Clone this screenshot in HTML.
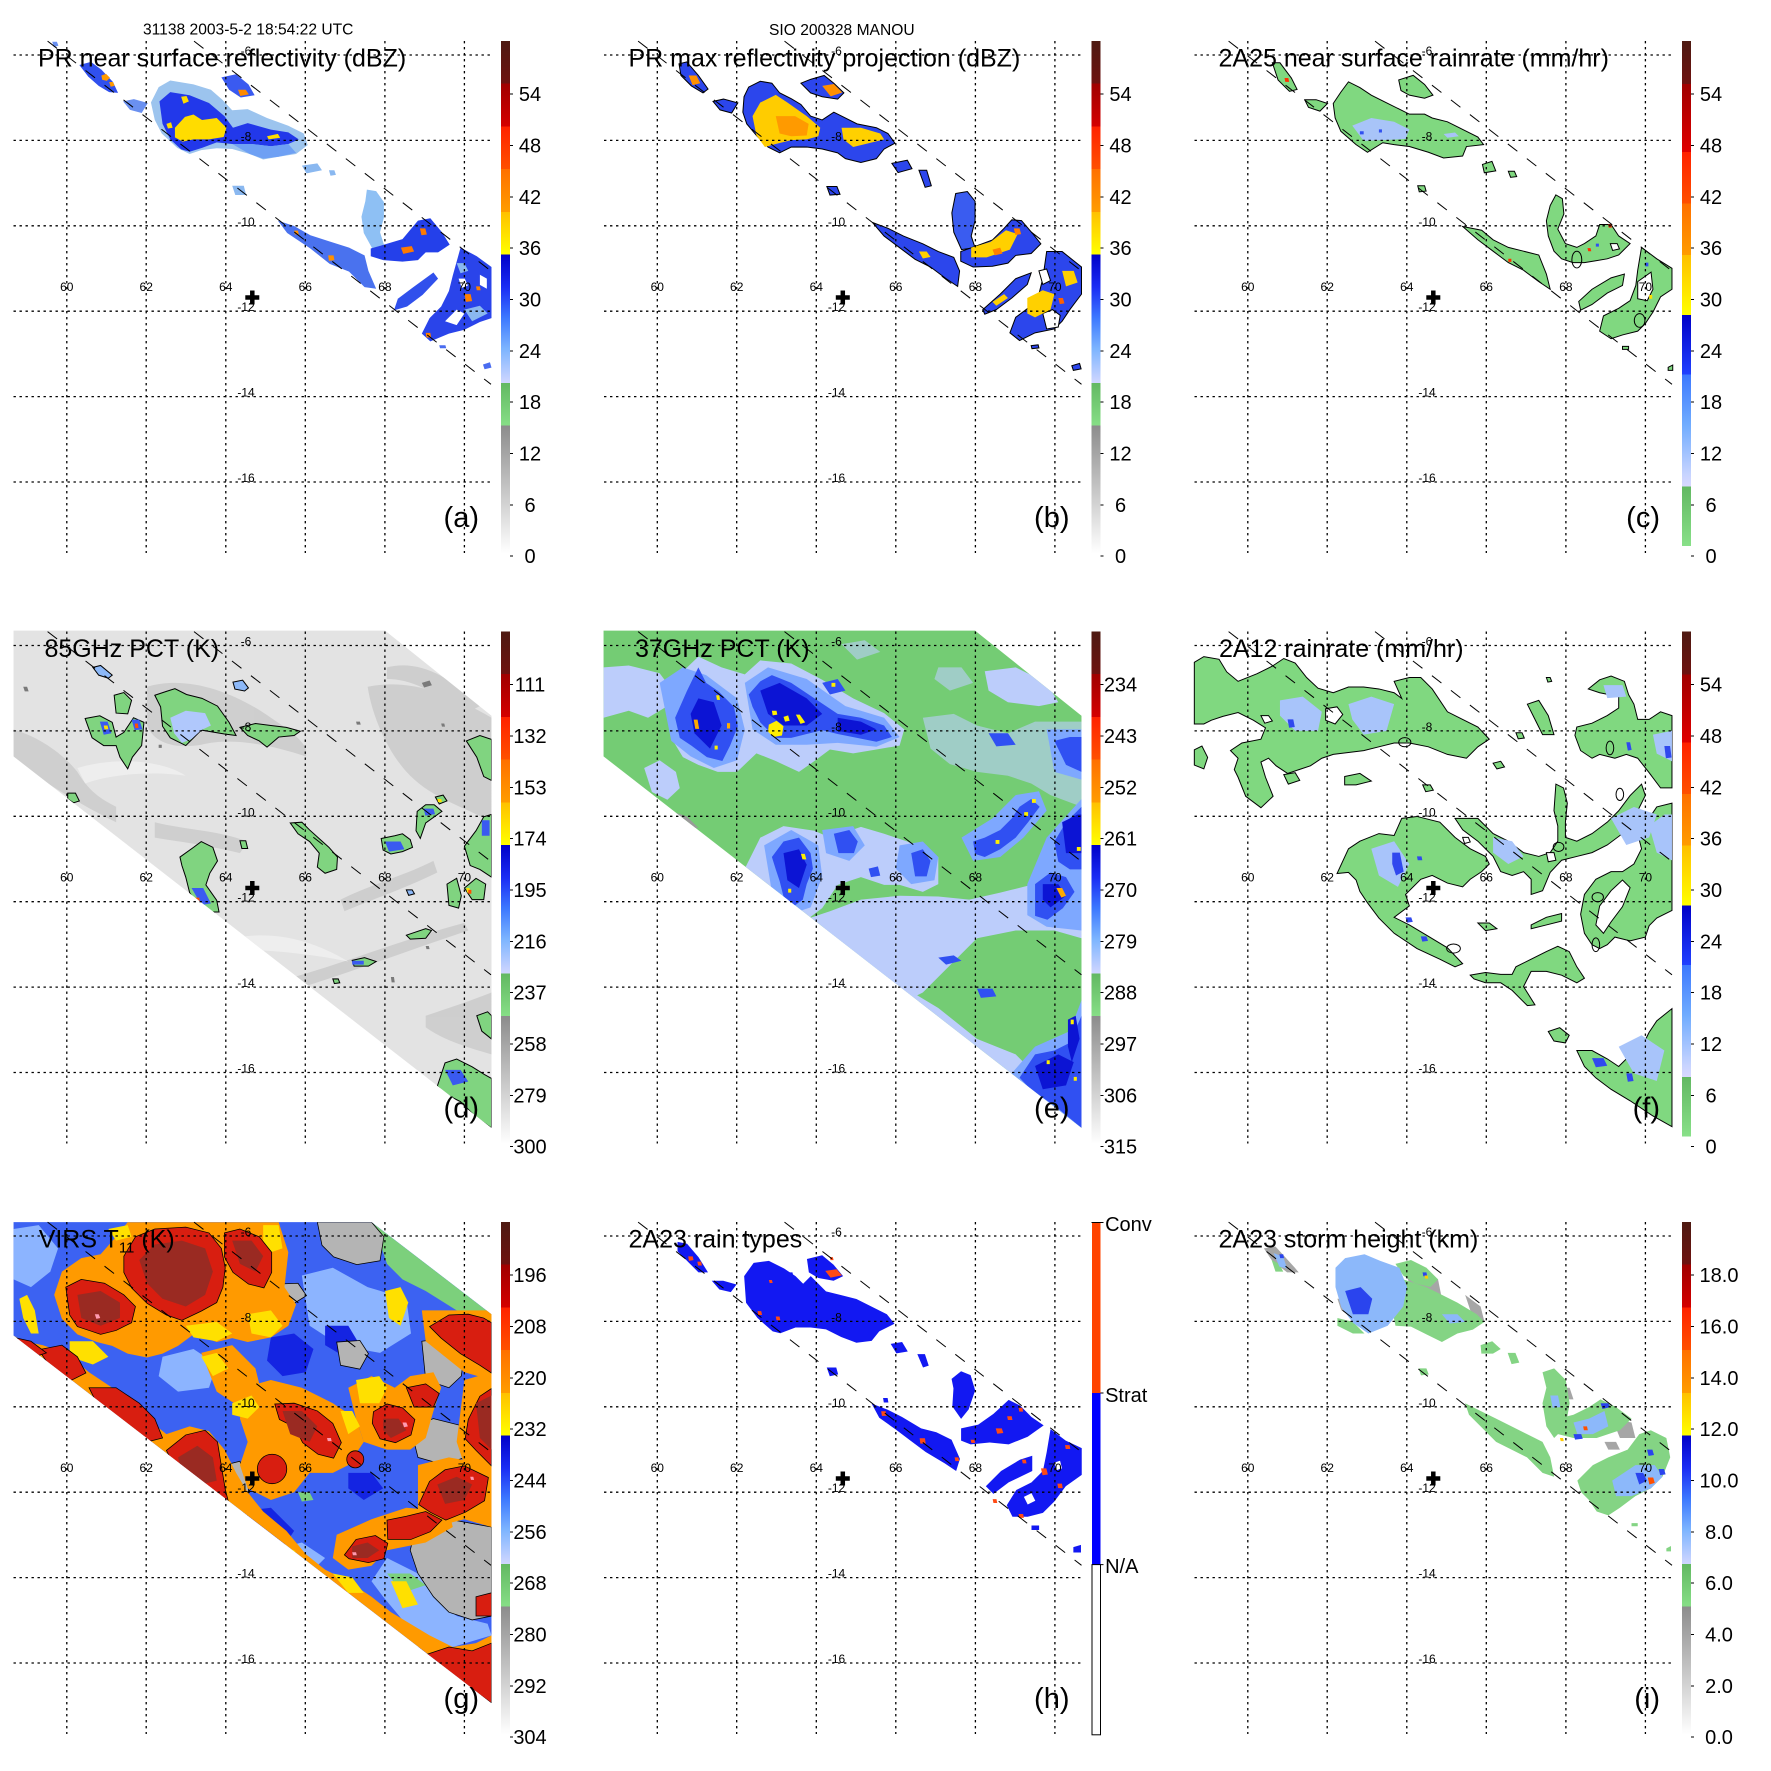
<!DOCTYPE html>
<html><head><meta charset="utf-8"><style>
html,body{margin:0;padding:0;background:#fff}
svg{display:block}
text{font-family:"Liberation Sans",Arial,sans-serif;fill:#000}
.grid{stroke:#000;stroke-width:1.3;stroke-dasharray:2.4 3.6;fill:none}
.sw{stroke:#000;stroke-width:1;stroke-dasharray:12 12;fill:none}
.lat,.lon{font-size:12px;text-anchor:middle}
.ttl{font-size:25px}
.plab{font-size:29px;text-anchor:end}
.cbl{font-size:20px;text-anchor:middle}
.tk{stroke:#000;stroke-width:1}
.cr{stroke:#000;stroke-width:4.5}
</style></head><body>
<svg width="1771" height="1771" viewBox="0 0 1771 1771" xmlns="http://www.w3.org/2000/svg">
<defs>
<linearGradient id="cbA" x1="0" y1="0" x2="0" y2="1">
<stop offset="0" stop-color="#4e1a12"/><stop offset="0.0833" stop-color="#6e1210"/>
<stop offset="0.0833" stop-color="#a00000"/><stop offset="0.1667" stop-color="#d40000"/>
<stop offset="0.1667" stop-color="#ff2200"/><stop offset="0.25" stop-color="#ff5000"/>
<stop offset="0.25" stop-color="#ff7000"/><stop offset="0.3333" stop-color="#ff9c00"/>
<stop offset="0.3333" stop-color="#ffc000"/><stop offset="0.4167" stop-color="#ffff00"/>
<stop offset="0.4167" stop-color="#0000c8"/><stop offset="0.48" stop-color="#1a2cf4"/>
<stop offset="0.54" stop-color="#3c78ff"/><stop offset="0.6" stop-color="#7cb4ff"/>
<stop offset="0.667" stop-color="#d0d6ff"/><stop offset="0.667" stop-color="#62b862"/>
<stop offset="0.75" stop-color="#86de86"/><stop offset="0.75" stop-color="#8c8c8c"/>
<stop offset="1" stop-color="#ffffff"/>
</linearGradient>
<linearGradient id="cbC" x1="0" y1="0" x2="0" y2="1">
<stop offset="0" stop-color="#4e1a12"/><stop offset="0.085" stop-color="#6e1210"/>
<stop offset="0.085" stop-color="#a00000"/><stop offset="0.22" stop-color="#e00000"/>
<stop offset="0.22" stop-color="#ff2200"/><stop offset="0.322" stop-color="#ff5000"/>
<stop offset="0.322" stop-color="#ff7000"/><stop offset="0.424" stop-color="#ff9c00"/>
<stop offset="0.424" stop-color="#ffc000"/><stop offset="0.543" stop-color="#ffff00"/>
<stop offset="0.543" stop-color="#0000c8"/><stop offset="0.66" stop-color="#2040ff"/>
<stop offset="0.66" stop-color="#3c78ff"/><stop offset="0.76" stop-color="#70acff"/>
<stop offset="0.86" stop-color="#c8d4ff"/><stop offset="0.882" stop-color="#d8d8ff"/>
<stop offset="0.882" stop-color="#62b862"/><stop offset="1" stop-color="#88e088"/>
</linearGradient>
<clipPath id="cpG" clipPathUnits="userSpaceOnUse"><path d="M35,132H960L1270,370V1375L35,425Z"/></clipPath>
<clipPath id="cpE" clipPathUnits="userSpaceOnUse"><path d="M35,105H995L1270,325V1390L35,430Z"/></clipPath>
</defs>

<text x="143" y="34.5" style="font-size:15.6px">31138 2003-5-2 18:54:22 UTC</text>
<text x="769" y="34.8" style="font-size:15.6px">SIO 200328 MANOU</text>

<!-- ================= PANEL A ================= -->
<g transform="translate(0,0)">
<g transform="scale(.387)">
<path fill="#3050ee" d="M205,168 L235,160 262,180 292,212 305,240 282,238 255,222 228,198Z"/>
<path fill="#ff9a00" d="M262,195 l12,-4 10,10 -8,8 -12,-3Z M282,212 l10,0 4,10 -10,2Z"/>
<path fill="#6a90f0" d="M318,262 L346,256 382,266 366,292 336,284Z M135,108 l12,0 4,10 -12,4Z"/>
<path fill="#9cc4ee" d="M390,265 L410,225 440,208 500,218 545,232 575,258 600,285 640,282 690,305 745,325 785,345 795,375 765,398 720,405 680,412 645,398 600,385 560,383 520,388 490,398 458,382 418,345 400,310Z"/>
<path fill="#2238ea" d="M412,262 L440,238 490,246 540,266 580,300 602,330 640,318 700,335 745,342 772,360 745,372 700,378 650,372 600,372 560,368 522,382 490,392 468,386 440,360 420,320Z"/>
<path fill="#ffdc00" d="M452,330 L478,302 500,296 522,310 560,305 585,330 578,354 540,360 500,360 472,366 452,355Z M468,250 l14,-2 6,14 -14,6Z M690,352 l28,-6 6,10 -30,4Z M430,320 l12,-4 4,14 -12,2Z"/>
<path fill="#6ea0f4" d="M600,372 L650,372 700,378 745,372 765,395 720,405 680,410 645,398Z"/>
<path fill="#3a5af0" d="M572,200 L610,192 642,218 658,246 622,252 592,232Z"/>
<path fill="#ff8a00" d="M615,232 l20,0 8,12 -22,4Z"/>
<path fill="#8ab8f0" d="M780,428 l40,-6 12,18 -40,8Z M600,480 l30,0 6,24 -28,0Z M850,440 l14,0 4,12 -14,2Z"/>
<path fill="#8ec0f4" d="M948,490 L972,494 992,522 992,562 982,600 992,632 962,642 940,602 934,560 944,520Z"/>
<path fill="#4a72ee" d="M718,570 L760,584 802,608 852,624 902,640 942,660 952,700 972,746 942,742 902,702 852,682 802,642 742,602Z"/>
<path fill="#ff9000" d="M848,660 l14,0 2,12 -14,2Z M760,596 l10,0 2,10 -10,0Z"/>
<path fill="#2440ea" d="M958,642 L1000,630 1040,618 1080,570 1112,564 1142,600 1162,632 1132,652 1100,652 1080,672 1040,676 990,672 958,662Z"/>
<path fill="#ff7a00" d="M1036,640 l28,-4 6,14 -28,6Z M1085,590 l14,0 4,16 -14,2Z"/>
<path fill="#3050ec" d="M1028,772 L1068,742 1120,704 1132,720 1092,762 1052,792 1018,802Z"/>
<path fill="#2a44ea" d="M1190,640 L1232,662 1270,690 1270,822 1240,832 1200,852 1160,862 1112,882 1090,862 1110,822 1140,792 1160,752 1170,712Z"/>
<path fill="#8ab8f0" d="M1200,800 l40,-10 20,20 -40,20Z M1180,680 l20,0 10,20 -20,6Z"/>
<path fill="#ffffff" d="M1150,830 l30,-30 20,10 -20,30Z M1185,720 l16,0 8,18 -16,6Z M1240,710 l18,10 0,26 -18,-10Z"/>
<path fill="#ff8000" d="M1200,760 l16,0 4,18 -16,2Z M1100,860 l12,0 2,12 -12,0Z M1230,740 l10,0 2,10 -10,0Z"/>
<path fill="#4a6cf0" d="M1248,942 l18,-6 4,14 -18,4Z M1135,892 l16,0 2,8 -16,0Z"/>
</g>
<path class="grid" d="M13.5,55H491M13.5,140.4H491M13.5,225.8H491M13.5,311.2H491M13.5,396.6H491M13.5,482H491M66.8,41V553M146.2,41V553M225.8,41V553M305.3,41V553M384.9,41V553M464.4,41V553"/>
<path class="sw" d="M47.6,41.1L491,384.3M194,41.1L491,271"/>
<text class="lat" x="246" y="55">-6</text><text class="lat" x="246" y="140.4">-8</text><text class="lat" x="246" y="225.8">-10</text><text class="lat" x="246" y="311.2">-12</text><text class="lat" x="246" y="396.6">-14</text><text class="lat" x="246" y="482">-16</text>
<text class="lon" x="66.8" y="291">60</text><text class="lon" x="146.2" y="291">62</text><text class="lon" x="225.8" y="291">64</text><text class="lon" x="305.3" y="291">66</text><text class="lon" x="384.9" y="291">68</text><text class="lon" x="464.4" y="291">70</text>
<path class="cr" d="M245.3,297.5H259.3M252.3,290.5V304.5"/>
<text class="ttl" x="38" y="66.5">PR near surface reflectivity (dBZ)</text>
<text class="plab" x="479" y="527">(a)</text>
<rect x="501" y="41" width="9" height="512.5" fill="url(#cbA)"/>
<path class="tk" d="M510,94h3M510,145.5h3M510,197h3M510,248h3M510,299.5h3M510,351h3M510,402h3M510,453.5h3M510,505h3M510,556h3"/>
<text class="cbl" x="530" y="101.2">54</text><text class="cbl" x="530" y="152.7">48</text><text class="cbl" x="530" y="204.2">42</text><text class="cbl" x="530" y="255.2">36</text><text class="cbl" x="530" y="306.7">30</text><text class="cbl" x="530" y="358.2">24</text><text class="cbl" x="530" y="409.2">18</text><text class="cbl" x="530" y="460.7">12</text><text class="cbl" x="530" y="512.2">6</text><text class="cbl" x="530" y="563.2">0</text>
</g>

<!-- ================= PANEL B ================= -->
<g transform="translate(590.5,0)">
<g transform="translate(-0.5,0) scale(.387)">
<g stroke="#000" stroke-width="2.6" fill="#2c46ec">
<path d="M230,165 L250,160 280,195 305,230 292,240 262,222 235,195Z"/>
<path d="M318,262 L345,256 382,266 366,292 336,284Z"/>
<path d="M398,250 L410,225 440,210 470,215 490,240 520,255 545,270 570,300 600,310 630,290 650,300 690,320 740,330 770,345 788,370 760,385 740,410 700,420 660,410 640,395 600,385 560,380 520,380 490,395 460,380 430,350 405,320 395,290Z"/>
<path d="M545,215 L570,205 605,195 630,215 656,240 640,256 600,250 570,240Z"/>
<path d="M780,422 l40,-8 12,22 -36,10Z M850,440 l20,0 12,40 -16,4Z M612,482 l26,0 8,20 -26,2Z"/>
<path fill="#3a5cf0" d="M945,500 L975,495 995,520 995,570 985,610 995,640 960,645 940,600 935,550Z"/>
<path d="M958,650 L1000,635 1040,620 1070,590 1090,568 1115,570 1145,605 1165,630 1140,655 1100,660 1080,680 1040,688 990,690 958,675Z"/>
<path d="M730,575 L770,590 810,610 860,630 900,650 940,665 955,700 950,740 920,720 880,690 840,670 800,640 760,610Z"/>
<path d="M1015,800 L1060,760 1100,720 1140,705 1130,735 1090,770 1050,800 1020,812Z"/>
<path d="M1180,650 L1220,650 1270,690 1270,760 1240,800 1220,830 1200,850 1150,860 1110,880 1085,860 1100,820 1140,790 1160,760 1170,720Z"/>
<path fill="#fff" d="M1170,810 L1195,800 1215,815 1210,845 1180,850Z M1160,700 l20,-5 10,30 -20,10Z"/>
<path d="M1245,945 l20,-6 4,14 -20,4Z M1140,893 l18,-2 2,8 -18,2Z"/>
</g>
<path fill="#ffcc00" d="M420,300 L440,265 480,245 510,265 560,300 595,330 590,352 560,360 520,362 480,372 452,380 430,350Z"/>
<path fill="#ff9a00" d="M480,300 L530,300 565,320 560,350 520,352 490,345Z"/>
<path fill="#ffd000" d="M650,330 L700,330 750,345 760,360 720,370 680,380 655,360Z"/>
<path fill="#ff9000" d="M600,222 l30,-5 22,22 -30,10Z M255,195 l20,0 10,20 -20,5Z"/>
<path fill="#ffd000" d="M985,640 l50,-15 40,-30 30,10 -20,40 -60,20 -40,0Z"/>
<path fill="#ff8000" d="M1040,645 l20,-5 6,15 -20,5Z M1095,590 l15,0 4,15 -15,2Z"/>
<path fill="#ffd000" d="M1130,770 l40,-20 30,10 -10,40 -40,20 -20,-10Z M1220,700 l30,0 10,30 -30,10Z M850,650 l20,0 10,14 -20,4Z M1040,780 l30,-20 10,10 -30,20Z"/>
<path fill="#ff6000" d="M1210,770 l12,0 4,14 -12,2Z"/>
</g>
<path class="grid" d="M13.5,55H491M13.5,140.4H491M13.5,225.8H491M13.5,311.2H491M13.5,396.6H491M13.5,482H491M66.8,41V553M146.2,41V553M225.8,41V553M305.3,41V553M384.9,41V553M464.4,41V553"/>
<path class="sw" d="M47.6,41.1L491,384.3M194,41.1L491,271"/>
<text class="lat" x="246" y="55">-6</text><text class="lat" x="246" y="140.4">-8</text><text class="lat" x="246" y="225.8">-10</text><text class="lat" x="246" y="311.2">-12</text><text class="lat" x="246" y="396.6">-14</text><text class="lat" x="246" y="482">-16</text>
<text class="lon" x="66.8" y="291">60</text><text class="lon" x="146.2" y="291">62</text><text class="lon" x="225.8" y="291">64</text><text class="lon" x="305.3" y="291">66</text><text class="lon" x="384.9" y="291">68</text><text class="lon" x="464.4" y="291">70</text>
<path class="cr" d="M245.3,297.5H259.3M252.3,290.5V304.5"/>
<text class="ttl" x="38" y="66.5">PR max reflectivity projection (dBZ)</text>
<text class="plab" x="479" y="527">(b)</text>
<rect x="501" y="41" width="9" height="512.5" fill="url(#cbA)"/>
<path class="tk" d="M510,94h3M510,145.5h3M510,197h3M510,248h3M510,299.5h3M510,351h3M510,402h3M510,453.5h3M510,505h3M510,556h3"/>
<text class="cbl" x="530" y="101.2">54</text><text class="cbl" x="530" y="152.7">48</text><text class="cbl" x="530" y="204.2">42</text><text class="cbl" x="530" y="255.2">36</text><text class="cbl" x="530" y="306.7">30</text><text class="cbl" x="530" y="358.2">24</text><text class="cbl" x="530" y="409.2">18</text><text class="cbl" x="530" y="460.7">12</text><text class="cbl" x="530" y="512.2">6</text><text class="cbl" x="530" y="563.2">0</text>
</g>

<!-- ================= PANEL C ================= -->
<g transform="translate(1181,0)">
<g transform="scale(.3806)">
<g fill="#80d880" stroke="#000" stroke-width="2.6">
<path d="M240,165 l20,0 30,40 15,30 -20,5 -30,-30Z"/>
<path d="M325,262 l30,0 30,10 -20,20 -30,-10Z"/>
<path d="M400,272 L420,242 440,215 470,230 500,250 540,270 570,285 600,300 640,300 660,310 700,320 740,340 780,360 795,380 750,385 740,410 690,415 650,400 600,385 560,380 530,375 490,400 460,380 420,345 405,310Z"/>
<path d="M572,210 L610,198 640,222 662,250 640,258 600,250 578,238Z"/>
<path d="M792,432 l25,-8 10,25 -30,5Z M860,450 l16,0 6,14 -16,2Z M622,488 l18,0 4,14 -18,2Z"/>
<path d="M985,512 L1002,522 1006,562 990,602 1010,640 1040,650 1060,640 1090,620 1100,590 1130,590 1150,620 1180,640 1150,670 1120,680 1090,685 1060,690 1030,690 1000,680 980,660 965,620 960,580 970,540Z"/>
<path d="M740,595 L790,605 820,630 860,650 900,660 940,670 960,720 970,760 940,740 900,710 860,690 820,660 780,630Z"/>
<path d="M1045,792 L1080,760 1130,730 1165,720 1160,750 1120,770 1080,800 1050,815Z"/>
<path d="M1210,650 L1250,680 1290,705 1290,760 1260,780 1240,820 1220,850 1200,870 1160,880 1130,890 1100,870 1110,830 1150,810 1180,790 1195,750 1200,710Z"/>
<path d="M1280,965 l12,-6 0,14 -12,0Z M1160,910 l16,0 0,8 -16,0Z"/>
<path fill="#fff" d="M1200,740 L1235,715 1240,760 1225,790 1200,785Z M1128,640 l18,0 6,14 -18,4Z"/>
<ellipse fill="none" cx="1040" cy="682" rx="13" ry="22"/>
<ellipse fill="none" cx="1205" cy="842" rx="14" ry="18"/>
</g>
<path fill="#a8c4f8" d="M450,330 L500,310 560,320 600,340 590,365 540,368 480,370Z M690,352 l30,-4 10,10 -30,4Z"/>
<path fill="#3050f0" d="M470,345 l10,0 0,8 -10,0Z M520,340 l8,0 0,8 -8,0Z M1090,640 l8,0 0,8 -8,0Z M1220,690 l8,0 0,10 -8,0Z"/>
<path fill="#ff3000" d="M272,205 l10,0 2,10 -10,0Z M1122,590 l8,0 2,8 -8,0Z M1068,652 l8,0 2,8 -8,0Z M860,680 l8,0 0,8 -8,0Z"/>
<path fill="#ffe000" d="M1230,775 l8,0 0,10 -8,0Z"/>
</g>
<path class="grid" d="M13.5,55H491M13.5,140.4H491M13.5,225.8H491M13.5,311.2H491M13.5,396.6H491M13.5,482H491M66.8,41V553M146.2,41V553M225.8,41V553M305.3,41V553M384.9,41V553M464.4,41V553"/>
<path class="sw" d="M47.6,41.1L491,384.3M194,41.1L491,271"/>
<text class="lat" x="246" y="55">-6</text><text class="lat" x="246" y="140.4">-8</text><text class="lat" x="246" y="225.8">-10</text><text class="lat" x="246" y="311.2">-12</text><text class="lat" x="246" y="396.6">-14</text><text class="lat" x="246" y="482">-16</text>
<text class="lon" x="66.8" y="291">60</text><text class="lon" x="146.2" y="291">62</text><text class="lon" x="225.8" y="291">64</text><text class="lon" x="305.3" y="291">66</text><text class="lon" x="384.9" y="291">68</text><text class="lon" x="464.4" y="291">70</text>
<path class="cr" d="M245.3,297.5H259.3M252.3,290.5V304.5"/>
<text class="ttl" x="37.5" y="66.5">2A25 near surface rainrate (mm/hr)</text>
<text class="plab" x="479" y="527">(c)</text>
<rect x="501" y="41" width="9" height="505" fill="url(#cbC)"/>
<path class="tk" d="M510,94h3M510,145.5h3M510,197h3M510,248h3M510,299.5h3M510,351h3M510,402h3M510,453.5h3M510,505h3M510,556h3"/>
<text class="cbl" x="530" y="101.2">54</text><text class="cbl" x="530" y="152.7">48</text><text class="cbl" x="530" y="204.2">42</text><text class="cbl" x="530" y="255.2">36</text><text class="cbl" x="530" y="306.7">30</text><text class="cbl" x="530" y="358.2">24</text><text class="cbl" x="530" y="409.2">18</text><text class="cbl" x="530" y="460.7">12</text><text class="cbl" x="530" y="512.2">6</text><text class="cbl" x="530" y="563.2">0</text>
</g>

<!-- ================= PANEL D ================= -->
<g transform="translate(0,590.5)">
<g transform="translate(0,-0.5) scale(.387)">
<path fill="#e3e3e3" d="M35,105H995L1270,325V1390L35,430Z"/>
<g clip-path="url(#cpE)">
<g fill="#cbcbcb" opacity="0.85">
<path d="M380,250 C480,220 600,260 700,330 C760,370 800,400 790,430 C700,400 600,380 520,400 C460,410 400,400 380,350Z"/>
<path d="M35,360 C100,380 160,420 200,470 C230,520 260,540 300,560 L300,600 C220,560 150,520 35,440Z"/>
<path d="M950,250 C1050,230 1150,260 1270,330 L1270,600 C1200,560 1120,540 1060,480 C1000,420 960,320 950,250Z"/>
<path d="M400,600 C480,620 560,620 640,650 L620,680 C540,660 460,650 400,640Z"/>
<path d="M880,800 C960,760 1040,740 1120,700 L1130,730 C1050,770 960,800 890,830Z"/>
<path d="M760,1000 C900,960 1050,900 1200,860 L1210,880 C1060,930 900,990 770,1030Z"/>
<path d="M1100,1100 C1160,1080 1220,1060 1270,1040 L1270,1200 C1200,1180 1140,1160 1100,1130Z"/>
<path d="M1000,200 C1080,180 1160,220 1240,300 L1200,320 C1120,260 1060,230 1000,230Z"/>
</g>
<g fill="#f0f0f0" opacity="0.8">
<path d="M200,460 C300,430 420,440 480,480 C420,470 300,470 220,500Z"/>
<path d="M600,900 C700,880 800,900 900,960 C800,940 700,930 620,930Z"/>
</g>
<g fill="#7a7a7a">
<path d="M1090,240 l20,-6 6,12 -20,6Z M60,250 l10,0 4,12 -10,0Z M920,340 l10,0 2,8 -10,0Z M1140,345 l8,0 2,8 -8,0Z M1100,920 l8,0 2,8 -8,0Z M1010,1000 l8,0 2,14 -8,0Z M410,400 l8,0 0,8 -8,0Z"/>
</g>
<g fill="#80d480" stroke="#000" stroke-width="2.6">
<path d="M220,332 L258,325 290,342 300,380 320,368 345,330 372,342 366,402 342,432 330,462 310,432 300,402 268,402 238,382Z"/>
<path d="M295,272 L320,265 340,285 330,320 300,318Z"/>
<path d="M400,272 L430,262 452,255 482,270 522,280 562,300 592,342 610,376 580,372 520,362 500,382 480,402 440,382 420,352 415,302Z"/>
<path d="M620,355 L660,345 700,350 740,355 776,365 760,376 720,380 690,406 670,390 640,376Z"/>
<path d="M465,690 L500,665 520,650 550,665 562,700 542,732 532,762 560,802 566,832 540,832 510,812 490,782 480,742 470,712Z"/>
<path d="M750,602 L780,600 800,620 822,640 850,665 872,690 870,722 840,732 820,716 825,680 800,650 770,630Z"/>
<path d="M985,642 L1020,635 1040,630 1060,645 1066,665 1040,676 1010,682 990,672Z"/>
<path d="M1078,572 L1100,555 1122,555 1142,572 1100,602 1086,642 1075,622Z"/>
<path d="M1205,390 L1240,376 1270,386 1270,492 1250,482 1232,432Z"/>
<path d="M1200,662 L1230,622 1250,586 1270,580 1270,742 1240,722 1215,712Z"/>
<path d="M1155,760 L1180,745 1192,790 1185,822 1160,815Z"/>
<path d="M1200,770 L1230,745 1255,760 1250,800 1220,800Z"/>
<path d="M910,957 L942,950 972,960 952,972 915,972Z"/>
<path d="M1050,892 L1100,875 1115,880 1100,900 1060,902Z"/>
<path d="M1130,1282 L1150,1222 1180,1212 1220,1232 1252,1252 1270,1262 1270,1390 1230,1362 1190,1322 1150,1302Z"/>
<path d="M1232,1100 L1260,1090 1270,1100 1270,1160 1245,1140Z"/>
<path d="M175,525 l20,0 10,20 -15,5 -15,-10Z M620,648 l15,0 5,20 -15,0Z M1125,535 l20,-5 10,15 -20,8Z M860,1005 l14,0 4,10 -14,2Z"/>
<path fill="#8cb8f8" d="M240,200 l20,-5 30,25 -10,8 -25,-8Z M602,238 l25,-5 15,20 -10,8 -25,-5Z M1050,775 l15,0 6,10 -15,4Z"/>
</g>
<path fill="#b0c8fc" d="M440,330 L480,312 530,318 545,350 520,362 495,385 470,395 450,370Z"/>
<path fill="#3a5af0" d="M258,340 l20,0 10,30 -20,4Z M340,335 l20,0 8,25 -20,2Z M495,770 l30,0 20,40 -25,4Z M995,650 l40,0 10,20 -40,6Z M1095,565 l25,0 4,14 -25,4Z M1150,1240 l40,0 20,30 -40,10Z M910,958 l30,0 0,10 -30,0Z M1245,595 l20,0 0,40 -20,0Z"/>
<path fill="#ffe000" d="M268,350 l10,0 2,10 -10,0Z M1205,770 l8,0 2,12 -8,0Z M1130,540 l10,0 2,8 -10,0Z"/>
<path fill="#ff5000" d="M348,345 l8,0 2,12 -8,0Z M505,795 l10,0 2,14 -10,0Z M1210,775 l8,0 0,10 -8,0Z"/>
</g>
</g>
<path class="grid" d="M13.5,55H491M13.5,140.4H491M13.5,225.8H491M13.5,311.2H491M13.5,396.6H491M13.5,482H491M66.8,41V553M146.2,41V553M225.8,41V553M305.3,41V553M384.9,41V553M464.4,41V553"/>
<path class="sw" d="M47.6,41.1L491,384.3M194,41.1L491,271"/>
<text class="lat" x="246" y="55">-6</text><text class="lat" x="246" y="140.4">-8</text><text class="lat" x="246" y="225.8">-10</text><text class="lat" x="246" y="311.2">-12</text><text class="lat" x="246" y="396.6">-14</text><text class="lat" x="246" y="482">-16</text>
<text class="lon" x="66.8" y="291">60</text><text class="lon" x="146.2" y="291">62</text><text class="lon" x="225.8" y="291">64</text><text class="lon" x="305.3" y="291">66</text><text class="lon" x="384.9" y="291">68</text><text class="lon" x="464.4" y="291">70</text>
<path class="cr" d="M245.3,297.5H259.3M252.3,290.5V304.5"/>
<text class="ttl" x="44.5" y="66.5">85GHz PCT (K)</text>
<text class="plab" x="479" y="527">(d)</text>
<rect x="501" y="41" width="9" height="512.5" fill="url(#cbA)"/>
<path class="tk" d="M510,94h3M510,145.5h3M510,197h3M510,248h3M510,299.5h3M510,351h3M510,402h3M510,453.5h3M510,505h3M510,556h3"/>
<text class="cbl" x="530" y="101.2">111</text><text class="cbl" x="530" y="152.7">132</text><text class="cbl" x="530" y="204.2">153</text><text class="cbl" x="530" y="255.2">174</text><text class="cbl" x="530" y="306.7">195</text><text class="cbl" x="530" y="358.2">216</text><text class="cbl" x="530" y="409.2">237</text><text class="cbl" x="530" y="460.7">258</text><text class="cbl" x="530" y="512.2">279</text><text class="cbl" x="530" y="563.2">300</text>
</g>

<!-- ================= PANEL E ================= -->
<g transform="translate(590.5,590.5)">
<g transform="translate(-0.5,-0.5) scale(.387)">
<path fill="#74cc74" d="M35,105H995L1270,325V1390L35,430Z"/>
<g clip-path="url(#cpE)">
<g fill="#bccdfb">
<path d="M35,200 L100,195 180,215 212,258 200,300 150,330 100,312 35,330Z"/>
<path d="M200,300 L230,220 280,172 340,200 400,218 440,182 520,190 600,232 680,280 760,318 812,360 800,402 740,412 680,422 620,412 580,442 540,470 480,442 430,422 380,470 330,470 280,452 240,432 210,382Z"/>
<path d="M400,720 L440,640 500,610 580,622 620,640 700,612 760,630 820,650 900,690 900,760 860,780 800,762 760,762 700,742 640,762 600,822 560,852 500,842 460,802 420,762Z"/>
<path d="M560,850 L620,830 700,800 800,790 900,792 980,800 1060,782 1140,762 1200,742 1270,732 1270,900 1200,880 1100,880 1000,900 940,960 900,1000 860,1040 820,1060 760,1040 720,1000 680,960 640,920 600,890Z"/>
<path d="M560,850 L1270,1390 L1270,1340 1180,1280 1100,1200 1000,1160 900,1080 800,1020 700,940 620,880Z"/>
<path d="M1020,210 L1100,200 1180,240 1210,290 1160,300 1080,290 1030,260Z"/>
<path d="M140,460 L180,440 222,470 232,512 200,542 160,522Z"/>
</g>
<g fill="#9fcdc6">
<path d="M860,330 L940,320 1000,350 1080,370 1150,340 1220,340 1270,340 1270,560 1190,530 1140,500 1080,480 1000,470 930,450 880,410Z"/>
<path d="M900,200 l60,0 30,40 -60,20 -40,-30Z M650,140 l60,-10 40,30 -60,20Z"/>
</g>
<g fill="#7ea8ff">
<path d="M180,240 L240,200 300,220 380,280 400,360 380,440 320,460 260,430 210,390Z"/>
<path d="M400,240 L460,200 560,230 660,300 760,330 800,380 740,405 640,395 560,400 480,400 420,360Z"/>
<path d="M450,660 L520,620 590,660 600,740 570,820 510,840 470,780Z"/>
<path d="M960,640 L1040,590 1100,530 1160,520 1180,570 1120,640 1060,690 990,700Z"/>
<path d="M1180,640 L1270,540 1270,880 1180,870 1130,840 1130,760Z"/>
<path d="M1080,1260 L1150,1180 1240,1140 1270,1060 1270,1390 1180,1330Z"/>
<path d="M800,660 l60,-10 40,40 -10,60 -60,10 -40,-40Z"/>
<path d="M1180,360 l90,0 0,130 -70,-20Z"/>
<path d="M600,620 l80,-10 30,50 -40,40 -60,-20Z"/>
</g>
<g fill="#3050f2">
<path d="M220,330 L250,262 280,200 300,240 332,262 372,302 382,352 362,402 342,442 302,432 262,402 232,382Z"/>
<path d="M410,270 L440,236 470,220 520,240 580,280 640,320 700,330 760,350 780,380 740,392 690,382 640,372 600,362 560,372 520,382 480,382 440,342 420,302Z"/>
<path d="M470,690 L500,650 540,640 570,680 576,720 560,760 550,800 520,822 500,792 490,752 480,722Z"/>
<path d="M630,630 l40,-10 22,30 -10,30 -40,0Z M830,680 l30,-10 20,30 -10,40 -30,0Z"/>
<path d="M990,650 L1020,640 1060,620 1090,590 1110,560 1140,540 1162,560 1132,600 1100,640 1060,670 1020,690 995,682Z"/>
<path d="M1200,650 L1230,600 1260,570 1270,560 1270,722 1240,722 1210,702Z"/>
<path d="M1150,760 L1190,730 1230,742 1252,780 1222,822 1182,852 1150,842Z"/>
<path d="M1200,390 L1240,380 1270,380 1270,470 1230,452Z"/>
<path d="M1110,1260 L1150,1200 1200,1190 1240,1170 1270,1100 1270,1390 1200,1332 1140,1292Z"/>
<path d="M900,950 l40,-6 20,14 -40,10Z M1030,370 l50,0 20,30 -50,4Z M720,720 l24,-6 6,24 -24,4Z M600,240 l40,-10 20,30 -40,10Z M1000,1030 l40,0 10,20 -40,4Z"/>
</g>
<g fill="#0c14d4">
<path d="M440,260 L490,240 560,280 600,320 560,350 500,350 460,320Z"/>
<path d="M280,280 l40,10 20,60 -30,60 -40,-40 -10,-50Z"/>
<path d="M500,680 l40,-10 20,40 -20,60 -30,-20Z"/>
<path d="M640,330 l60,10 40,20 -40,14 -60,-10Z"/>
<path d="M1220,600 l40,-20 10,0 0,100 -40,0Z"/>
<path d="M1170,760 l40,0 20,30 -40,30 -20,-20Z"/>
<path d="M1150,1230 l60,-30 40,20 -20,60 -60,10Z"/>
<path d="M1235,1110 l20,-10 10,60 -20,60 -10,-40Z"/>
</g>
<path fill="#9a9a9a" d="M220,575 l30,10 30,30 -20,0 -40,-30Z"/>
<g fill="#ffee00">
<path d="M462,348 l20,-10 18,14 -4,24 -22,4 -14,-14Z M470,312 l12,0 2,10 -12,2Z M500,328 l12,-4 4,14 -12,2Z M532,322 l10,0 14,20 -12,4Z"/>
<path d="M326,272 l8,0 2,12 -8,0Z M545,682 l10,0 4,14 -10,0Z M624,240 l10,0 0,10 -10,0Z M1142,540 l10,0 0,10 -10,0Z M1122,574 l10,0 0,10 -10,0Z M1048,646 l10,0 0,10 -10,0Z M1258,664 l10,0 0,10 -10,0Z M1242,1110 l8,0 0,12 -8,0Z M1180,1215 l8,0 0,10 -8,0Z M1250,1258 l8,0 0,10 -8,0Z M512,772 l8,0 0,10 -8,0Z M322,402 l8,0 0,10 -8,0Z"/>
</g>
<path fill="#ffaa00" d="M268,335 l10,0 4,24 -10,0Z M354,344 l8,0 0,14 -8,0Z M1205,770 l15,0 10,20 -12,5Z"/>
</g>
</g>
<path class="grid" d="M13.5,55H491M13.5,140.4H491M13.5,225.8H491M13.5,311.2H491M13.5,396.6H491M13.5,482H491M66.8,41V553M146.2,41V553M225.8,41V553M305.3,41V553M384.9,41V553M464.4,41V553"/>
<path class="sw" d="M47.6,41.1L491,384.3M194,41.1L491,271"/>
<text class="lat" x="246" y="55">-6</text><text class="lat" x="246" y="140.4">-8</text><text class="lat" x="246" y="225.8">-10</text><text class="lat" x="246" y="311.2">-12</text><text class="lat" x="246" y="396.6">-14</text><text class="lat" x="246" y="482">-16</text>
<text class="lon" x="66.8" y="291">60</text><text class="lon" x="146.2" y="291">62</text><text class="lon" x="225.8" y="291">64</text><text class="lon" x="305.3" y="291">66</text><text class="lon" x="384.9" y="291">68</text><text class="lon" x="464.4" y="291">70</text>
<path class="cr" d="M245.3,297.5H259.3M252.3,290.5V304.5"/>
<text class="ttl" x="44.5" y="66.5">37GHz PCT (K)</text>
<text class="plab" x="479" y="527">(e)</text>
<rect x="501" y="41" width="9" height="512.5" fill="url(#cbA)"/>
<path class="tk" d="M510,94h3M510,145.5h3M510,197h3M510,248h3M510,299.5h3M510,351h3M510,402h3M510,453.5h3M510,505h3M510,556h3"/>
<text class="cbl" x="530" y="101.2">234</text><text class="cbl" x="530" y="152.7">243</text><text class="cbl" x="530" y="204.2">252</text><text class="cbl" x="530" y="255.2">261</text><text class="cbl" x="530" y="306.7">270</text><text class="cbl" x="530" y="358.2">279</text><text class="cbl" x="530" y="409.2">288</text><text class="cbl" x="530" y="460.7">297</text><text class="cbl" x="530" y="512.2">306</text><text class="cbl" x="530" y="563.2">315</text>
</g>

<!-- ================= PANEL F ================= -->
<g transform="translate(1181,590.5)">
<g transform="translate(0,-0.5) scale(.3806)">
<g fill="#80d880" stroke="#000" stroke-width="2.6">
<path d="M35,190 L60,175 100,182 120,215 150,240 200,220 240,200 270,180 300,192 330,230 360,258 400,270 440,255 480,255 520,260 560,270 580,285 560,240 600,230 630,230 660,260 700,320 740,340 780,360 810,392 780,412 750,442 700,432 650,412 600,402 560,402 520,412 480,422 440,427 400,432 370,442 340,462 310,472 280,482 250,462 230,442 210,452 222,492 242,542 210,572 170,542 150,492 140,472 150,442 130,422 160,402 210,392 222,362 190,342 150,322 110,332 80,342 60,352 35,352Z"/>
<path d="M35,420 l20,-10 15,30 -10,30 -25,-10Z"/>
<path d="M270,485 l30,-5 12,20 -30,10Z"/>
<path d="M430,490 l40,-8 30,20 -40,10 -30,0Z"/>
<path d="M635,512 l20,0 8,14 -20,4Z M820,455 l20,-5 10,15 -20,5Z M880,375 l16,0 6,14 -16,2Z"/>
<path d="M1070,260 L1100,236 1130,226 1165,240 1176,275 1190,300 1200,340 1230,340 1260,320 1290,330 1290,520 1260,520 1230,480 1200,442 1170,432 1140,442 1100,432 1080,442 1050,422 1035,382 1040,360 1080,350 1120,330 1150,310 1150,280 1100,270Z"/>
<path d="M910,300 l30,-10 25,40 15,50 -30,0 -20,-40Z"/>
<path d="M440,680 L470,660 520,640 560,645 580,600 620,595 680,610 720,650 760,680 800,700 810,720 790,740 760,760 740,780 700,770 660,750 630,760 600,790 590,800 600,830 560,860 600,880 650,910 700,940 740,982 720,990 680,970 620,942 560,902 520,862 490,822 470,792 460,762 440,742 410,745Z"/>
<path d="M720,600 L780,600 820,640 860,660 900,690 940,700 970,690 990,660 990,620 980,580 985,510 1005,520 1015,560 1010,610 1010,650 1040,660 1080,640 1120,610 1150,580 1180,540 1210,510 1220,540 1190,600 1160,640 1120,670 1080,690 1040,700 1000,710 970,742 950,790 920,800 920,760 900,740 870,750 840,740 820,700 780,660 740,630Z"/>
<path d="M1060,800 L1090,760 1130,740 1160,740 1190,720 1210,680 1200,640 1230,600 1250,570 1290,560 1290,842 1250,862 1230,882 1220,912 1180,922 1140,912 1120,932 1100,942 1080,932 1060,902 1050,852Z"/>
<path d="M760,1012 L800,1005 840,1010 870,1010 880,990 920,970 960,950 990,936 1020,950 1040,990 1060,1020 1040,1032 1000,1012 960,1002 920,1002 900,1042 930,1090 910,1092 870,1052 840,1032 800,1032 770,1022Z"/>
<path d="M920,880 l40,-20 40,-10 0,20 -40,10 -40,10Z"/>
<path d="M965,1160 l30,-10 25,20 -10,20 -30,-5Z"/>
<path d="M1040,1210 L1080,1210 1120,1232 1150,1252 1180,1222 1210,1202 1230,1162 1250,1132 1290,1100 1290,1410 1240,1382 1180,1342 1130,1312 1090,1282 1060,1252Z"/>
<path d="M780,875 l30,0 20,15 -30,5Z M960,230 l10,0 4,10 -10,2Z"/>
<path fill="#fff" d="M1090,880 L1100,830 1130,790 1160,762 1180,782 1160,832 1130,872 1110,902Z"/>
<path fill="#fff" d="M380,312 l30,-5 15,20 -20,25 -25,-10Z M210,330 l20,0 10,14 -20,6Z M740,650 l15,0 5,12 -15,4Z M960,690 l20,0 5,20 -20,4Z"/>
<ellipse fill="none" cx="588" cy="400" rx="16" ry="12"/>
<ellipse fill="none" cx="1127" cy="415" rx="10" ry="18"/>
<ellipse fill="none" cx="1153" cy="537" rx="10" ry="16"/>
<ellipse fill="none" cx="1095" cy="807" rx="15" ry="12"/>
<ellipse fill="none" cx="1090" cy="932" rx="10" ry="18"/>
<ellipse fill="none" cx="716" cy="942" rx="18" ry="12"/>
<ellipse fill="none" cx="992" cy="675" rx="14" ry="12"/>
</g>
<g fill="#a8c4fa">
<path d="M260,290 l60,-10 50,40 -10,50 -60,0 -40,-40Z M440,300 l60,-20 60,20 -20,70 -60,10 -30,-40Z M500,680 l60,-20 40,60 -30,60 -50,-30Z M1130,600 l60,-30 60,20 -20,60 -60,20Z M1230,620 l40,-30 20,0 0,120 -40,-20Z M1110,250 l50,0 10,30 -50,4Z M1150,1200 l60,-30 60,40 -20,80 -60,-20Z M820,650 l50,10 30,40 -40,20 -40,-30Z M1240,380 l50,-10 0,80 -40,-20Z"/>
</g>
<g fill="#3048ee">
<path d="M555,690 l20,0 10,50 -20,10 -10,-30Z M280,340 l15,0 4,20 -15,2Z M1170,400 l10,0 4,20 -10,2Z M1270,410 l15,0 4,30 -15,2Z M1080,1230 l30,0 10,20 -30,4Z M1170,1270 l15,0 4,20 -15,2Z M590,860 l15,0 4,12 -15,2Z M630,910 l15,0 4,12 -15,2Z M620,700 l12,0 2,10 -12,0Z"/>
</g>
</g>
<path class="grid" d="M13.5,55H491M13.5,140.4H491M13.5,225.8H491M13.5,311.2H491M13.5,396.6H491M13.5,482H491M66.8,41V553M146.2,41V553M225.8,41V553M305.3,41V553M384.9,41V553M464.4,41V553"/>
<path class="sw" d="M47.6,41.1L491,384.3M194,41.1L491,271"/>
<text class="lat" x="246" y="55">-6</text><text class="lat" x="246" y="140.4">-8</text><text class="lat" x="246" y="225.8">-10</text><text class="lat" x="246" y="311.2">-12</text><text class="lat" x="246" y="396.6">-14</text><text class="lat" x="246" y="482">-16</text>
<text class="lon" x="66.8" y="291">60</text><text class="lon" x="146.2" y="291">62</text><text class="lon" x="225.8" y="291">64</text><text class="lon" x="305.3" y="291">66</text><text class="lon" x="384.9" y="291">68</text><text class="lon" x="464.4" y="291">70</text>
<path class="cr" d="M245.3,297.5H259.3M252.3,290.5V304.5"/>
<text class="ttl" x="38" y="66.5">2A12 rainrate (mm/hr)</text>
<text class="plab" x="479" y="527">(f)</text>
<rect x="501" y="41" width="9" height="505" fill="url(#cbC)"/>
<path class="tk" d="M510,94h3M510,145.5h3M510,197h3M510,248h3M510,299.5h3M510,351h3M510,402h3M510,453.5h3M510,505h3M510,556h3"/>
<text class="cbl" x="530" y="101.2">54</text><text class="cbl" x="530" y="152.7">48</text><text class="cbl" x="530" y="204.2">42</text><text class="cbl" x="530" y="255.2">36</text><text class="cbl" x="530" y="306.7">30</text><text class="cbl" x="530" y="358.2">24</text><text class="cbl" x="530" y="409.2">18</text><text class="cbl" x="530" y="460.7">12</text><text class="cbl" x="530" y="512.2">6</text><text class="cbl" x="530" y="563.2">0</text>
</g>

<!-- ================= PANEL G ================= -->
<g transform="translate(0,1181)">
<g transform="translate(0,-10) scale(.387)">
<path fill="#3c62f2" d="M35,132H960L1270,370V1375L35,425Z"/>
<g clip-path="url(#cpG)">
<g fill="#8cb4ff">
<path d="M780,270 L860,250 950,300 1050,330 1062,420 982,470 880,452 800,400Z"/>
<path d="M1000,1000 L1080,1040 1120,1100 1180,1150 1260,1170 1270,1200 1170,1230 1100,1200 1040,1160 990,1100 960,1060Z"/>
<path d="M35,150 L100,140 150,200 130,260 80,300 35,280Z"/>
<path d="M420,480 l80,-20 60,40 -20,60 -80,10 -50,-40Z"/>
<path d="M700,980 l80,-20 60,40 -40,40 -80,0Z"/>
</g>
<g fill="#1424e2">
<path d="M700,430 l60,-10 50,40 -20,60 -60,10 -40,-40Z"/>
<ellipse cx="400" cy="420" rx="40" ry="22"/>
<path d="M620,880 l80,-10 60,60 -40,60 -80,-20Z"/>
<path d="M840,400 l60,0 30,50 -40,30 -50,-30Z"/>
<path d="M900,780 l60,0 30,40 -50,30 -40,-30Z"/>
<path d="M1080,1230 l60,0 20,40 -60,10Z"/>
</g>
<path fill="#7cd07c" d="M960,132 L1270,370 1270,400 1180,360 1100,310 1040,280 1000,240 980,180Z M1000,1040 l60,0 40,30 -60,20Z M770,830 l30,0 10,20 -30,4Z"/>
<g fill="#b4b4b4" stroke="#000" stroke-width="2">
<path d="M820,132 L960,132 992,170 982,232 922,242 862,222 832,192Z"/>
<path d="M720,292 L770,290 792,322 760,342 722,330Z"/>
<path d="M870,442 L930,438 952,472 930,512 880,502Z"/>
<path d="M1090,440 L1150,432 1200,470 1192,530 1160,560 1100,540Z"/>
<path d="M1060,660 L1120,640 1200,660 1200,740 1150,760 1080,740Z"/>
<path d="M1080,900 L1160,900 1270,920 1270,1150 1220,1160 1160,1140 1120,1100 1080,1040 1060,980Z"/>
<path d="M580,760 L620,750 642,820 640,900 600,890 585,840Z"/>
</g>
<g fill="#ff9a00">
<path d="M140,320 L160,260 210,225 260,215 300,170 330,132 720,132 745,210 735,300 765,345 745,400 700,430 640,442 600,432 560,442 500,422 460,452 420,472 380,482 330,472 290,452 250,442 200,422 160,382Z"/>
<path d="M35,425 L60,440 110,450 170,470 230,520 290,560 340,600 380,640 430,680 490,660 540,672 580,720 610,780 640,830 680,880 740,930 790,990 840,1030 900,1060 960,1100 1010,1140 1060,1170 1110,1200 1170,1230 1230,1220 1270,1200 L1270,1375Z"/>
<path d="M630,560 L700,540 780,560 860,600 920,640 940,700 900,760 860,780 800,780 760,830 700,850 640,820 620,760 640,700 620,640Z"/>
<path d="M900,560 L960,530 1020,560 1060,530 1120,520 1140,560 1120,620 1100,690 1060,720 1000,720 940,700 920,640Z"/>
<path d="M1090,360 L1270,360 1270,540 1200,520 1150,480 1100,440Z"/>
<path d="M1200,540 L1270,520 1270,780 1200,760 1180,700Z"/>
<path d="M1080,760 L1160,740 1270,760 1270,920 1200,900 1120,920 1080,880Z"/>
<path d="M870,940 L960,900 1050,870 1160,880 1170,920 1100,960 1000,980 960,1020 900,1030 860,1000Z"/>
<path d="M520,470 l80,-20 60,60 20,80 -60,20 -60,-40Z"/>
</g>
<g fill="#ffe000">
<path d="M50,330 L70,320 90,360 100,420 80,420 60,380Z"/>
<path d="M280,150 l50,-10 10,30 -40,10Z"/>
<path d="M480,400 L560,390 600,420 560,440 500,430Z"/>
<path d="M680,140 l40,0 10,60 -30,10 -20,-30Z"/>
<path d="M640,370 L700,360 730,400 700,430 650,420Z"/>
<path d="M520,480 l40,-10 30,40 -40,20Z"/>
<path d="M600,600 l50,-20 20,30 -30,30 -40,-10Z"/>
<path d="M920,540 L980,530 1000,560 980,600 930,600Z"/>
<path d="M995,310 l40,-10 20,40 -20,60 -30,-20Z"/>
<path d="M880,620 l30,0 20,40 -30,20Z"/>
<path d="M700,960 l60,20 40,50 -40,10 -60,-40Z"/>
<path d="M1010,1060 l40,0 30,60 -40,10Z"/>
<path d="M180,440 l60,0 40,40 -40,20 -60,-20Z"/>
<path d="M860,1040 l50,10 30,40 -40,0Z"/>
</g>
<g fill="#d81e10" stroke="#000" stroke-width="2">
<path d="M320,220 L350,170 400,150 480,145 540,160 572,200 582,250 576,300 560,340 520,362 470,386 430,372 380,342 340,302 320,262Z"/>
<path d="M170,300 L210,280 270,290 320,320 350,350 340,392 300,412 260,422 230,412 200,402 180,372Z"/>
<path d="M580,160 L620,150 670,170 702,210 702,262 682,302 642,292 602,262 580,222Z"/>
<path d="M100,462 L160,450 200,480 222,522 182,542 140,522Z"/>
<path d="M230,560 L300,560 360,600 400,640 420,690 380,700 320,650 260,620Z"/>
<path d="M430,722 L480,682 530,670 562,700 572,762 582,822 592,862 560,842 500,802 450,762Z"/>
<path d="M710,602 L760,600 820,620 860,652 882,702 862,742 822,732 782,702 762,662 722,642Z"/>
<circle cx="703" cy="770" r="38"/>
<circle cx="918" cy="745" r="22"/>
<path d="M965,622 L1000,602 1040,612 1072,642 1062,682 1022,702 982,692 962,652Z"/>
<path d="M1050,560 L1100,550 1135,575 1120,610 1070,610Z"/>
<path d="M1110,402 L1160,372 1210,370 1250,380 1270,392 1270,522 1240,502 1190,472 1140,432Z"/>
<path d="M1210,642 L1240,582 1270,562 1270,762 1230,722 1202,692Z"/>
<path d="M1110,802 L1150,772 1200,762 1262,792 1252,852 1202,882 1152,902 1112,882 1082,862Z"/>
<path d="M1000,902 L1050,892 1100,880 1142,902 1112,932 1062,952 1002,952Z"/>
<path d="M890,992 L920,952 970,942 1002,962 992,1002 952,1012 902,1002Z"/>
<path d="M1100,1250 L1160,1230 1220,1240 1270,1220 1270,1375 1180,1310Z"/>
<path d="M1230,1100 l40,-10 0,60 -40,0Z"/>
<path d="M35,430 L80,440 120,470 90,480 35,450Z"/>
</g>
<g fill="#9a2a22">
<path d="M360,230 L400,190 470,180 530,200 550,260 530,320 480,350 420,330 380,290Z"/>
<path d="M200,320 L260,310 310,340 310,380 260,400 210,380Z"/>
<path d="M460,740 l50,-30 40,30 10,60 -40,10 -50,-30Z"/>
<path d="M730,620 l50,0 40,40 -20,40 -50,-20Z"/>
<path d="M990,640 l40,0 20,30 -40,20 -20,-20Z"/>
<path d="M1230,600 l40,-20 0,140 -30,-30Z"/>
<path d="M1130,810 l50,-20 40,20 -20,40 -50,10Z"/>
<path d="M910,970 l40,-10 30,20 -30,20 -40,0Z"/>
<path d="M600,180 l50,0 30,40 -20,40 -40,-20Z"/>
</g>
<path fill="#ff9ab0" d="M245,370 l10,0 4,10 -10,2Z M1040,650 l10,0 4,10 -10,2Z M845,690 l10,0 2,8 -10,0Z M910,985 l10,0 2,8 -10,0Z M1215,790 l8,0 2,8 -8,0Z"/>
</g>
</g>
<path class="grid" d="M13.5,55H491M13.5,140.4H491M13.5,225.8H491M13.5,311.2H491M13.5,396.6H491M13.5,482H491M66.8,41V553M146.2,41V553M225.8,41V553M305.3,41V553M384.9,41V553M464.4,41V553"/>
<path class="sw" d="M47.6,41.1L491,384.3M194,41.1L491,271"/>
<text class="lat" x="246" y="55">-6</text><text class="lat" x="246" y="140.4">-8</text><text class="lat" x="246" y="225.8">-10</text><text class="lat" x="246" y="311.2">-12</text><text class="lat" x="246" y="396.6">-14</text><text class="lat" x="246" y="482">-16</text>
<text class="lon" x="66.8" y="291">60</text><text class="lon" x="146.2" y="291">62</text><text class="lon" x="225.8" y="291">64</text><text class="lon" x="305.3" y="291">66</text><text class="lon" x="384.9" y="291">68</text><text class="lon" x="464.4" y="291">70</text>
<path class="cr" d="M245.3,297.5H259.3M252.3,290.5V304.5"/>
<text class="ttl" x="38.7" y="66.5">VIRS T<tspan style="font-size:15px" dy="5">11</tspan><tspan dy="-5"> (K)</tspan></text>
<text class="plab" x="479" y="527">(g)</text>
<rect x="501" y="41" width="9" height="512.5" fill="url(#cbA)"/>
<path class="tk" d="M510,94h3M510,145.5h3M510,197h3M510,248h3M510,299.5h3M510,351h3M510,402h3M510,453.5h3M510,505h3M510,556h3"/>
<text class="cbl" x="530" y="101.2">196</text><text class="cbl" x="530" y="152.7">208</text><text class="cbl" x="530" y="204.2">220</text><text class="cbl" x="530" y="255.2">232</text><text class="cbl" x="530" y="306.7">244</text><text class="cbl" x="530" y="358.2">256</text><text class="cbl" x="530" y="409.2">268</text><text class="cbl" x="530" y="460.7">280</text><text class="cbl" x="530" y="512.2">292</text><text class="cbl" x="530" y="563.2">304</text>
</g>

<!-- ================= PANEL H ================= -->
<g transform="translate(590.5,1181)">
<g transform="translate(-0.5,0) scale(.3806)">
<g fill="#1218f2">
<path d="M230,160 l25,5 30,35 25,40 -25,0 -30,-30 -25,-25Z"/>
<path d="M320,262 L350,262 385,272 370,292 340,285Z"/>
<path d="M405,250 L430,215 470,210 510,230 540,250 560,270 580,250 600,270 620,290 660,300 700,310 740,330 780,350 800,375 760,395 740,420 700,425 660,410 620,390 580,385 540,385 500,400 480,395 440,360 410,320Z"/>
<path d="M570,205 L610,195 640,220 665,250 640,262 600,255 575,240Z"/>
<path d="M790,428 l30,-5 15,25 -30,5Z M860,455 l20,0 10,30 -15,5Z M622,490 l25,0 5,18 -22,5Z M520,240 l12,0 2,10 -12,0Z"/>
<path d="M950,520 L975,500 1000,510 1012,550 995,600 975,625 952,592 955,545Z"/>
<path d="M975,650 L1020,640 1060,612 1100,575 1130,590 1160,620 1192,642 1150,672 1100,692 1050,687 1000,692 975,682Z"/>
<path d="M740,585 L780,600 820,620 870,650 910,660 950,680 972,730 962,762 932,742 882,712 842,682 802,652 760,622Z"/>
<path d="M1040,802 L1080,762 1130,732 1162,722 1162,762 1100,792 1060,822Z"/>
<path d="M1210,652 L1250,682 1292,702 1292,772 1250,802 1220,842 1190,872 1150,882 1110,882 1095,852 1120,812 1160,792 1190,762 1200,712Z"/>
<path d="M1270,962 l20,-6 0,20 -20,0Z M1160,905 l20,0 0,12 -20,0Z M770,570 l12,0 2,12 -12,0Z"/>
</g>
<path fill="#fff" d="M1140,830 l20,-10 10,20 -20,10Z M1220,740 l15,-5 5,20 -15,5Z"/>
<g fill="#ff4a14">
<path d="M258,198 l12,0 2,10 -12,2Z M282,212 l10,0 2,10 -10,0Z M618,236 l30,-4 14,16 -30,6Z M488,356 l10,0 2,10 -10,0Z M440,342 l10,0 2,10 -10,0Z M765,605 l12,0 2,12 -12,0Z M866,676 l14,0 2,14 -14,0Z M1066,650 l16,0 4,12 -16,2Z M1096,618 l12,0 2,10 -12,0Z M1126,596 l10,0 2,10 -10,0Z M1185,755 l14,0 4,16 -14,2Z M1228,795 l12,0 2,12 -12,0Z M1126,875 l12,0 2,10 -12,0Z M1058,836 l10,0 2,10 -10,0Z M1248,694 l12,0 2,10 -12,0Z M958,726 l10,0 2,10 -10,0Z M1135,732 l10,0 2,10 -10,0Z M630,200 l8,0 2,8 -8,0Z M470,260 l8,0 2,8 -8,0Z M1000,680 l10,0 2,8 -10,0Z"/>
</g>
</g>
<path class="grid" d="M13.5,55H491M13.5,140.4H491M13.5,225.8H491M13.5,311.2H491M13.5,396.6H491M13.5,482H491M66.8,41V553M146.2,41V553M225.8,41V553M305.3,41V553M384.9,41V553M464.4,41V553"/>
<path class="sw" d="M47.6,41.1L491,384.3M194,41.1L491,271"/>
<text class="lat" x="246" y="55">-6</text><text class="lat" x="246" y="140.4">-8</text><text class="lat" x="246" y="225.8">-10</text><text class="lat" x="246" y="311.2">-12</text><text class="lat" x="246" y="396.6">-14</text><text class="lat" x="246" y="482">-16</text>
<text class="lon" x="66.8" y="291">60</text><text class="lon" x="146.2" y="291">62</text><text class="lon" x="225.8" y="291">64</text><text class="lon" x="305.3" y="291">66</text><text class="lon" x="384.9" y="291">68</text><text class="lon" x="464.4" y="291">70</text>
<path class="cr" d="M245.3,297.5H259.3M252.3,290.5V304.5"/>
<text class="ttl" x="38" y="66.5">2A23 rain types</text>
<text class="plab" x="479" y="527">(h)</text>
<rect x="501.5" y="41" width="8.5" height="171" fill="#ff4400"/>
<rect x="501.5" y="212" width="8.5" height="171.6" fill="#0000ff"/>
<rect x="501.5" y="383.6" width="8.5" height="170.2" fill="#fff" stroke="#000" stroke-width="1"/>
<path class="tk" d="M501,41.5h12M510,212h3M510,383.6h3" stroke="#888"/>
<text x="514.6" y="49.8" style="font-size:20px">Conv</text>
<text x="514.6" y="221.2" style="font-size:20px">Strat</text>
<text x="514.6" y="392.2" style="font-size:20px">N/A</text>
</g>

<!-- ================= PANEL I ================= -->
<g transform="translate(1181,1181)">
<g transform="translate(-10,-10) scale(.387)">
<g fill="#a6a6a6">
<path d="M240,200 L270,195 320,250 330,262 300,262 260,230Z"/>
<path d="M600,250 L640,240 690,280 700,330 660,330 620,300Z"/>
<path d="M760,320 l40,30 10,40 -30,-10Z M430,330 l20,0 10,30 -20,0Z M1140,640 l50,10 10,40 -40,0Z M1010,560 l20,0 10,30 -20,0Z M1120,700 l30,0 10,20 -30,0Z M880,700 l30,0 10,20 -30,0Z"/>
</g>
<g fill="#84d484">
<path d="M560,300 L600,280 660,300 700,320 740,340 790,370 810,390 780,410 740,420 700,442 660,422 620,402 580,400Z"/>
<path d="M580,240 L620,230 660,250 690,280 670,300 630,290 600,270Z"/>
<path d="M800,450 l30,-10 22,20 -20,12 -30,0Z M870,470 l20,0 10,25 -20,4Z M640,510 l20,0 6,16 -20,2Z"/>
<path d="M960,520 L990,510 1020,540 1030,600 1020,660 990,690 970,660 960,600 970,560Z"/>
<path d="M1000,640 L1040,630 1080,610 1110,590 1150,610 1190,640 1160,670 1100,690 1040,690 1000,680Z"/>
<path d="M760,600 L800,620 840,640 880,660 920,680 960,700 980,740 990,790 960,780 920,740 880,720 840,700 800,660 770,630Z"/>
<path d="M1050,800 L1090,760 1130,740 1180,720 1210,680 1240,670 1280,690 1290,740 1270,790 1240,820 1200,840 1160,870 1130,890 1100,880 1080,850 1060,830Z"/>
<path d="M1280,975 l12,-6 0,14 -12,0Z M1190,910 l16,0 0,8 -16,0Z"/>
<path d="M430,380 l40,10 30,30 -30,0 -40,-20Z M260,230 l20,10 10,20 -20,0Z"/>
</g>
<g fill="#8cb8fa">
<path d="M425,250 L450,225 500,215 540,232 590,250 610,300 600,350 560,400 510,420 470,392 440,352 425,300Z"/>
<path d="M1040,650 L1080,640 1120,620 1130,660 1090,680 1050,680Z"/>
<path d="M1140,800 L1200,760 1250,760 1270,790 1240,820 1190,840 1150,840Z"/>
<path d="M265,212 l25,10 10,30 -20,-5Z M700,370 l40,0 20,20 -40,4Z M980,580 l20,0 6,30 -20,2Z"/>
</g>
<g fill="#2a44ee">
<path d="M450,310 l40,-10 30,30 -10,40 -40,0Z M1200,780 l20,0 10,20 -20,10Z M1110,600 l20,0 5,10 -20,5Z M1040,680 l20,0 4,12 -20,2Z M1230,720 l14,0 4,14 -14,2Z M1260,770 l14,0 4,14 -14,2Z M650,262 l10,0 2,10 -10,0Z M280,215 l10,0 2,10 -10,0Z"/>
</g>
<path fill="#ff5000" d="M1232,792 l14,0 4,14 -14,4Z M1065,660 l10,0 2,10 -10,0Z"/>
<path fill="#ffcc00" d="M1005,690 l8,0 2,8 -8,0Z M655,270 l8,0 2,8 -8,0Z"/>
</g>
<path class="grid" d="M13.5,55H491M13.5,140.4H491M13.5,225.8H491M13.5,311.2H491M13.5,396.6H491M13.5,482H491M66.8,41V553M146.2,41V553M225.8,41V553M305.3,41V553M384.9,41V553M464.4,41V553"/>
<path class="sw" d="M47.6,41.1L491,384.3M194,41.1L491,271"/>
<text class="lat" x="246" y="55">-6</text><text class="lat" x="246" y="140.4">-8</text><text class="lat" x="246" y="225.8">-10</text><text class="lat" x="246" y="311.2">-12</text><text class="lat" x="246" y="396.6">-14</text><text class="lat" x="246" y="482">-16</text>
<text class="lon" x="66.8" y="291">60</text><text class="lon" x="146.2" y="291">62</text><text class="lon" x="225.8" y="291">64</text><text class="lon" x="305.3" y="291">66</text><text class="lon" x="384.9" y="291">68</text><text class="lon" x="464.4" y="291">70</text>
<path class="cr" d="M245.3,297.5H259.3M252.3,290.5V304.5"/>
<text class="ttl" x="37.5" y="66.5">2A23 storm height (km)</text>
<text class="plab" x="479" y="527">(i)</text>
<rect x="501" y="41" width="9" height="512.5" fill="url(#cbA)"/>
<path class="tk" d="M510,94h3M510,145.5h3M510,197h3M510,248h3M510,299.5h3M510,351h3M510,402h3M510,453.5h3M510,505h3M510,556h3"/>
<text class="cbl" x="538" y="101.2">18.0</text><text class="cbl" x="538" y="152.7">16.0</text><text class="cbl" x="538" y="204.2">14.0</text><text class="cbl" x="538" y="255.2">12.0</text><text class="cbl" x="538" y="306.7">10.0</text><text class="cbl" x="538" y="358.2">8.0</text><text class="cbl" x="538" y="409.2">6.0</text><text class="cbl" x="538" y="460.7">4.0</text><text class="cbl" x="538" y="512.2">2.0</text><text class="cbl" x="538" y="563.2">0.0</text>
</g>
</svg>
</body></html>
